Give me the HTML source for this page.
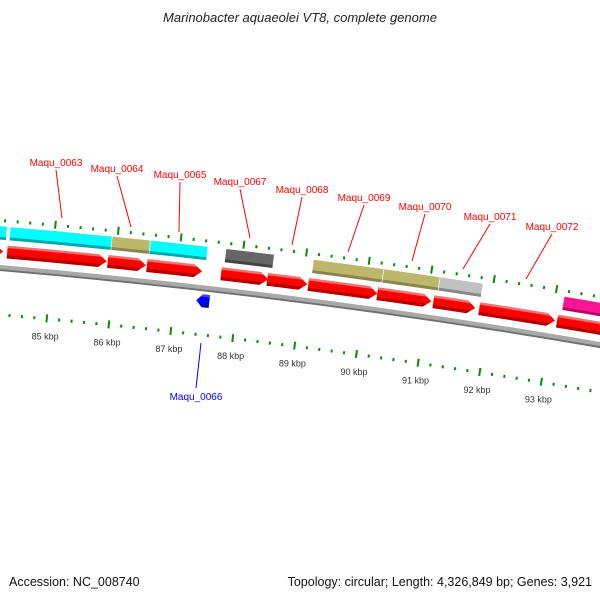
<!DOCTYPE html>
<html><head><meta charset="utf-8"><style>
body{margin:0;background:#fff;}
svg{display:block;font-family:"Liberation Sans","DejaVu Sans",sans-serif;}
</style></head><body>
<svg id="map" width="600" height="600" viewBox="0 0 600 600">
<defs>
<clipPath id="clip"><rect x="0" y="0" width="600" height="600"/></clipPath>
</defs>
<text x="300" y="22" text-anchor="middle" font-size="13" font-style="italic" fill="#222">Marinobacter aquaeolei VT8, complete genome</text>
<g id="plot" clip-path="url(#clip)"></g>
<text x="9" y="586" font-size="12.5" fill="#111">Accession: NC_008740</text>
<text x="592" y="586" text-anchor="end" font-size="12.5" fill="#111">Topology: circular; Length: 4,326,849 bp; Genes: 3,921</text>
</svg>
<script>
// data (bp)
const fwdStarts = [83950, 84276, 85881, 86507, 87695, 88433, 89091, 90198, 91099, 91837, 93089];
const fwdEnds   = [84212, 85865, 86491, 87390, 88449, 89075, 90198, 91067, 91773, 93057, 94300];
const outerStarts = [83950, 84292, 85913, 86523, 87727, 89123, 90247, 91147, 93138];
const outerEnds   = [84244, 85913, 86523, 87438, 88497, 90247, 91147, 91837, 94300];
const outerColors = ["#00ffff","#00ffff","#bdb76b","#00ffff","#666666","#bdb76b","#bdb76b","#c0c0c0","#ff1493"];
const revStarts = [87350];
const revEnds   = [87560];
const tickMin = 82000, tickMax = 96000;
const labelMin = 84000, labelMax = 93000;
const labelNames = ["Maqu_0063","Maqu_0064","Maqu_0065","Maqu_0067","Maqu_0068","Maqu_0069","Maqu_0070","Maqu_0071","Maqu_0072"];
const labelX = [56,117,180,240,302,364,425,490,552];
const labelY = [166,172,178,185,193,201,210,220,230];
const lineTo = [[62,218],[131,227],[179,232],[250,238],[292,245],[348,252],[412,261],[463,269],[526,279]];

const NS="http://www.w3.org/2000/svg";
const g=document.getElementById('plot');
const defs=document.querySelector('defs');
const CX=-602.6, CY=7340, R0=7097.6;
const PHI85=Math.atan2(273-CY, 51-CX);
const K=0.00884;
function ang(bp){return PHI85+(bp-85000)/1000*K;}
function pt(bp,r){const a=ang(bp);return [CX+r*Math.cos(a),CY+r*Math.sin(a)];}
function mk(tag,attrs){const e=document.createElementNS(NS,tag);for(const k in attrs)e.setAttribute(k,attrs[k]);return e;}
function grad(id,rin,rout,dark,main,light){
  const RG=R0+80;
  const gr=mk('radialGradient',{id:id,gradientUnits:'userSpaceOnUse',cx:CX,cy:CY,r:RG});
  const st=[[rin,dark],[rin+3,dark],[rin+3.5,main],[rout-3,main],[rout-2,light],[rout,light]];
  st.forEach(s=>{gr.appendChild(mk('stop',{offset:(s[0]/RG).toFixed(7),'stop-color':s[1]}));});
  defs.appendChild(gr);return 'url(#'+id+')';
}
function arcPath(s,e,r1,r2){
  const a=pt(s,r2),b=pt(e,r2),c=pt(e,r1),d=pt(s,r1);
  return `M${a} A${r2},${r2} 0 0 1 ${b} L${c} A${r1},${r1} 0 0 0 ${d} Z`;
}
function fwdArrow(s,e,r1,r2){
  const hl=8/R0/K*1000;const m=Math.max(s,e-hl);
  const a=pt(s,r2),b=pt(m,r2),t=pt(e,(r1+r2)/2),c=pt(m,r1),d=pt(s,r1);
  return `M${a} A${r2},${r2} 0 0 1 ${b} L${t} L${c} A${r1},${r1} 0 0 0 ${d} Z`;
}
function revArrow(s,e,r1,r2){
  const hl=6/R0/K*1000;const m=Math.min(e,s+hl);
  const a=pt(m,r2),b=pt(e,r2),c=pt(e,r1),d=pt(m,r1),t=pt(s,(r1+r2)/2);
  return `M${a} A${r2},${r2} 0 0 1 ${b} L${c} A${r1},${r1} 0 0 0 ${d} L${t} Z`;
}
// backbone
let bb=mk('path',{d:`M${pt(tickMin,R0+1)} A${R0+1},${R0+1} 0 0 1 ${pt(tickMax,R0+1)}`,fill:'none',stroke:'#a8a8a8','stroke-width':4});


g.appendChild(bb);
let bb2=mk('path',{d:`M${pt(tickMin,R0-2)} A${R0-2},${R0-2} 0 0 1 ${pt(tickMax,R0-2)}`,fill:'none',stroke:'#707070','stroke-width':2});


g.appendChild(bb2);
// forward CDS
const redFill=grad('gr',R0+10,R0+23,'#b00000','#ff0000','#ff7070');
fwdStarts.forEach((s,i)=>{
  const p=mk('path',{d:fwdArrow(s,fwdEnds[i],R0+10,R0+23),fill:redFill});
  
  
  g.appendChild(p);
});
// outer features
outerStarts.forEach((s,i)=>{
  const c=outerColors[i];
  const dk={'#00ffff':'#00a8a8','#bdb76b':'#8a8550','#666666':'#444','#c0c0c0':'#888','#ff1493':'#b00a66'}[c];
  const f=grad('go'+i,R0+28,R0+42,dk,c,c);
  const p=mk('path',{d:arcPath(s,outerEnds[i],R0+28,R0+42),fill:f,stroke:'#fff','stroke-width':0.6});
  
  
  g.appendChild(p);
});
// reverse feature
revStarts.forEach((s,i)=>{
  const f=grad('gb'+i,R0-19,R0-6,'#0000a0','#0000ff','#4040ff');
  const p=mk('path',{d:revArrow(s,revEnds[i],R0-19,R0-6),fill:f});
  
  
  g.appendChild(p);
});
// ticks
for(let bp=tickMin;bp<=tickMax;bp+=200){
  const major=bp%1000===0;
  [[R0+44,R0+52,R0+46,R0+49],[R0-50,R0-42,R0-48,R0-45]].forEach(r=>{
    const a=pt(bp,major?r[0]:r[2]),b=pt(bp,major?r[1]:r[3]);
    const l=mk('line',{x1:a[0],y1:a[1],x2:b[0],y2:b[1],stroke:'#0a8a0a','stroke-width':2});
    
    
    g.appendChild(l);
  });
  if(major && bp>=labelMin && bp<=labelMax){
    const q=pt(bp,R0-64);
    const t=mk('text',{x:q[0],y:q[1]+3,'text-anchor':'middle','font-size':9,fill:'#333'});
    t.textContent=(bp/1000)+' kbp';
    
    
    g.appendChild(t);
  }
}
// labels
labelNames.forEach((n,i)=>{
  const l=mk('line',{x1:labelX[i],y1:labelY[i]+4,x2:lineTo[i][0],y2:lineTo[i][1],stroke:'#f00','stroke-width':1});
  
  
  g.appendChild(l);
  const t=mk('text',{x:labelX[i],y:labelY[i],'text-anchor':'middle','font-size':10,fill:'#f00'});
  t.textContent=n;
  
  
  g.appendChild(t);
});
const bl=mk('line',{x1:201,y1:343,x2:196,y2:388,stroke:'#00f','stroke-width':1});


g.appendChild(bl);
const bt=mk('text',{x:196,y:400,'text-anchor':'middle','font-size':10,fill:'#00f'});
bt.textContent='Maqu_0066';


g.appendChild(bt);
</script>
</body></html>
